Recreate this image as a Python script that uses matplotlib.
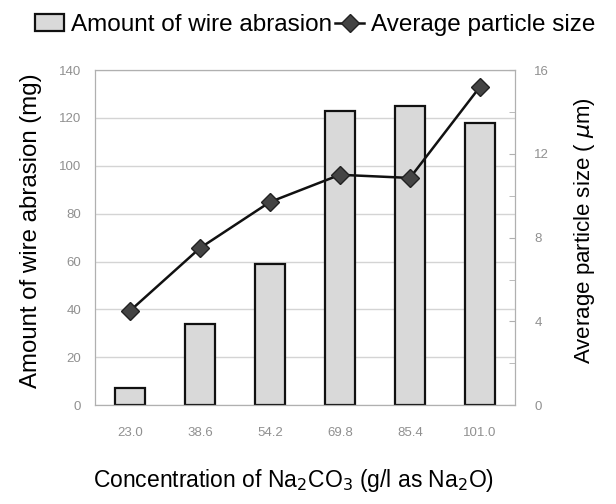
import numpy as np
import matplotlib.pyplot as plt

plt.rcParams['font.family'] = ['Liberation Sans', 'DejaVu Sans']

conc = ['23.0', '38.6', '54.2', '69.8', '85.4', '101.0']
abrasion = [7, 34, 59, 123, 125, 118]
size = [4.5, 7.5, 9.7, 11.0, 10.85, 15.2]

fig = plt.figure(figsize=(6.16, 5.04), dpi=100)
ax = fig.add_axes([0.154, 0.196, 0.682, 0.665])
x = np.arange(len(conc))

bars = ax.bar(x, abrasion, width=0.43, color='#d9d9d9', edgecolor='#111111',
              linewidth=1.6, zorder=2, label='Amount of wire abrasion')
ax.set_xlim(-0.5, 5.5)
ax.set_ylim(0, 140)
ax.set_yticks(range(0, 141, 20))
ax.set_xticks(x)
ax.set_xticklabels(conc)
ax.grid(axis='y', color='#d4d4d4', linewidth=1, zorder=0)
ax.tick_params(axis='y', length=0, labelsize=9.5, labelcolor='#909090', pad=10)
ax.tick_params(axis='x', length=0, labelsize=9.5, labelcolor='#909090', pad=16)
for s in ax.spines.values():
    s.set_color('#b0b0b0')
ax.set_ylabel('Amount of wire abrasion (mg)', fontsize=17.3)
ax.yaxis.set_label_coords(-0.125, 0.52)
ax.set_xlabel('Concentration of Na$_2$CO$_3$ (g/l as Na$_2$O)', fontsize=16.5)
ax.xaxis.set_label_coords(0.474, -0.185)

ax2 = ax.twinx()
line, = ax2.plot(x, size, color='#111111', linewidth=1.8, marker='D', markersize=9,
                 markerfacecolor='#444444', markeredgecolor='#222222', zorder=3,
                 label='Average particle size')
ax2.set_ylim(0, 16)
ax2.set_yticks(range(0, 17, 4))
ax2.set_yticks(range(0, 17, 2), minor=True)
ax2.tick_params(axis='y', which='both', direction='in', length=4, color='#b0b0b0',
                labelsize=9.5, labelcolor='#909090', pad=14)
for s in ax2.spines.values():
    s.set_color('#b0b0b0')
ax2.set_ylabel('Average particle size ( $\\mu$m)', fontsize=16)
ax2.yaxis.set_label_coords(1.136, 0.52)

fig.legend([bars, line], ['Amount of wire abrasion', 'Average particle size'],
           loc='upper center', bbox_to_anchor=(0.512, 1.015), ncol=2, frameon=False,
           fontsize=17.5, handlelength=1.2, handletextpad=0.3, columnspacing=0.1)

fig.savefig('out.png', dpi=100)
